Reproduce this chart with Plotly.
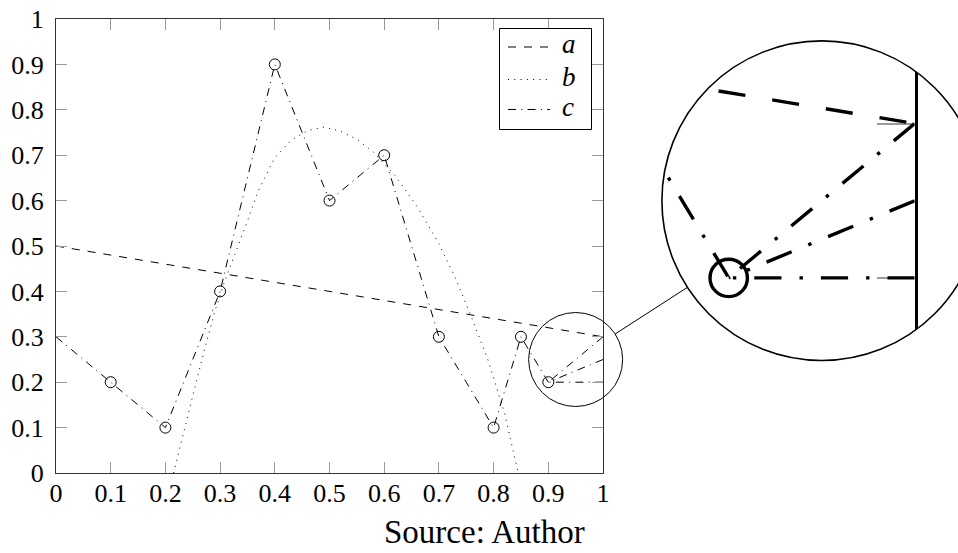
import numpy as np
import plotly.graph_objects as go

W, H = 958, 553

# ---- data -------------------------------------------------------------
tick_vals = [0, 0.1, 0.2, 0.3, 0.4, 0.5, 0.6, 0.7, 0.8, 0.9, 1]
tick_text = ["0", "0.1", "0.2", "0.3", "0.4", "0.5", "0.6", "0.7", "0.8", "0.9", "1"]

a_x = [0.0, 1.0]
a_y = [0.5, 0.3]

b_x = [0.215, 0.23, 0.25, 0.27, 0.29, 0.31, 0.33, 0.35, 0.37, 0.40, 0.43, 0.46,
       0.49, 0.52, 0.55, 0.58, 0.62, 0.66, 0.70, 0.73, 0.76, 0.79, 0.82, 0.845]
b_y = [0.0, 0.07, 0.17, 0.265, 0.355, 0.428, 0.49, 0.555, 0.622, 0.695, 0.733, 0.754,
       0.762, 0.753, 0.735, 0.707, 0.655, 0.587, 0.505, 0.43, 0.342, 0.248, 0.132, 0.0]

c_x = [0.0, 0.1, 0.2, 0.3, 0.4, 0.5, 0.6, 0.7, 0.8, 0.85, 0.9]
c_y = [0.3, 0.2, 0.1, 0.4, 0.9, 0.6, 0.7, 0.3, 0.1, 0.3, 0.2]
c_marked = [False, True, True, True, True, True, True, True, True, True, True]
# three branches joining the last c point to the right edge x = 1
c_fan_x = [1.0, 1.0, 1.0]
c_fan_y = [0.3, 0.25, 0.2]

legend_labels = ["a", "b", "c"]
source_text = "Source: Author"

# ---- geometry (pixels) -------------------------------------------------
PL, PR, PT, PB = 56, 603, 19, 473          # main plot box
SX, SY = PR - PL, PB - PT                  # px per data unit

SPY_X, SPY_Y = 0.95, 0.25                  # centre of the magnified spot
SPY_R = 47                                 # radius of the small circle, px
MAG = 3.4
BIG_R = SPY_R * MAG
BIG_CX, BIG_CY = 821.7, 200.7              # centre of the magnifier


def px(x):
    return x / W


def py(y):
    return 1 - y / H


def dash(pattern, k=1.0):
    return ",".join(f"{round(v * k, 1)}px" for v in pattern)


DASH_A = [8, 8]
DASH_B = [1, 5.3]
DASH_C = [8, 5.3, 1, 5.3]

fig = go.Figure()


def add_series(xa, ya, k):
    lw = 1.0 * k
    fig.add_trace(go.Scatter(x=a_x, y=a_y, mode="lines", xaxis=xa, yaxis=ya,
                             line=dict(color="black", width=lw, dash=dash(DASH_A, k)),
                             hoverinfo="skip", showlegend=False))
    fig.add_trace(go.Scatter(x=b_x, y=b_y, mode="lines", xaxis=xa, yaxis=ya,
                             line=dict(color="black", width=lw, dash=dash(DASH_B, k)),
                             hoverinfo="skip", showlegend=False))
    fig.add_trace(go.Scatter(x=c_x, y=c_y, mode="lines", xaxis=xa, yaxis=ya,
                             line=dict(color="black", width=lw, dash=dash(DASH_C, k)),
                             hoverinfo="skip", showlegend=False))
    # fan segments, each traced from the right edge back to the last c point
    fx, fy = [], []
    for ex, ey in zip(c_fan_x, c_fan_y):
        if fx:
            fx.append(None)
            fy.append(None)
        fx += [ex, c_x[-1]]
        fy += [ey, c_y[-1]]
    fig.add_trace(go.Scatter(x=fx, y=fy, mode="lines", xaxis=xa, yaxis=ya,
                             line=dict(color="black", width=lw, dash=dash(DASH_C, k)),
                             hoverinfo="skip", showlegend=False))
    mx = [x for x, m in zip(c_x, c_marked) if m]
    my = [y for y, m in zip(c_y, c_marked) if m]
    fig.add_trace(go.Scatter(x=mx, y=my, mode="markers", xaxis=xa, yaxis=ya,
                             marker=dict(symbol="circle-open", size=11 * k,
                                         color="black", line=dict(width=lw, color="black")),
                             hoverinfo="skip", showlegend=False))


add_series("x", "y", 1.0)
add_series("x2", "y2", MAG)

tick_font = dict(family="Liberation Serif", size=26, color="black")
axis_common = dict(showgrid=False, zeroline=False, showline=True, linecolor="#333",
                   linewidth=1, mirror="allticks", ticks="inside", ticklen=11,
                   tickwidth=1, tickcolor="#9a9a9a", tickvals=tick_vals,
                   ticktext=tick_text, tickfont=tick_font, automargin=False)

# inset axes: right edge sits where x = 1 falls under magnification
ix0 = BIG_CX - BIG_R
ix1 = BIG_CX + (1.0 - SPY_X) * SX * MAG
iy_top, iy_bot = BIG_CY - BIG_R, BIG_CY + BIG_R
x2_range = [SPY_X - BIG_R / (SX * MAG), 1.0]
y2_range = [SPY_Y - BIG_R / (SY * MAG), SPY_Y + BIG_R / (SY * MAG)]

fig.update_layout(
    template="none",
    width=W, height=H, autosize=False,
    margin=dict(l=0, r=0, t=0, b=0, pad=0, autoexpand=False),
    paper_bgcolor="white", plot_bgcolor="white",
    showlegend=False,
    xaxis=dict(domain=[px(PL), px(PR)], range=[0, 1], anchor="y",
               ticklabelstandoff=-3, **axis_common),
    yaxis=dict(domain=[py(PB), py(PT)], range=[0, 1], anchor="x",
               ticklabelstandoff=6, **axis_common),
    xaxis2=dict(domain=[px(ix0), px(ix1)], range=x2_range, anchor="y2",
                visible=False, automargin=False),
    yaxis2=dict(domain=[py(iy_bot), py(iy_top)], range=y2_range, anchor="x2",
                side="right", showgrid=False, zeroline=False, showline=True,
                linecolor="black", linewidth=1.0 * MAG, ticks="inside",
                ticklen=11 * MAG, tickwidth=1.5, tickcolor="#9a9a9a",
                tickvals=tick_vals, showticklabels=False, layer="below traces",
                automargin=False),
)

shapes = []

# white mask leaving only the round window of the magnifier
pad = 6
rect = (f"M{px(ix0 - pad)},{py(iy_top - pad)} L{px(BIG_CX + BIG_R + pad)},{py(iy_top - pad)} "
        f"L{px(BIG_CX + BIG_R + pad)},{py(iy_bot + pad)} L{px(ix0 - pad)},{py(iy_bot + pad)} Z")
t = np.linspace(0, 2 * np.pi, 181)
circ = " ".join(("M" if i == 0 else "L") + f"{px(BIG_CX + BIG_R * np.cos(v))},{py(BIG_CY + BIG_R * np.sin(v))}"
                for i, v in enumerate(t)) + " Z"
shapes.append(dict(type="path", xref="paper", yref="paper", path=rect + " " + circ,
                   fillcolor="white", fillrule="evenodd", line=dict(width=0), layer="above"))

# magnifier outline
shapes.append(dict(type="circle", xref="paper", yref="paper",
                   x0=px(BIG_CX - BIG_R), x1=px(BIG_CX + BIG_R),
                   y0=py(BIG_CY + BIG_R), y1=py(BIG_CY - BIG_R),
                   line=dict(color="black", width=1.6), layer="above"))

# small circle around the magnified spot
spx = PL + SPY_X * SX
spy = PB - SPY_Y * SY
shapes.append(dict(type="circle", xref="paper", yref="paper",
                   x0=px(spx - SPY_R), x1=px(spx + SPY_R),
                   y0=py(spy + SPY_R), y1=py(spy - SPY_R),
                   line=dict(color="black", width=1), layer="above"))

# connector between the two circles
dx, dy = BIG_CX - spx, BIG_CY - spy
dl = np.hypot(dx, dy)
ux, uy = dx / dl, dy / dl
shapes.append(dict(type="line", xref="paper", yref="paper",
                   x0=px(spx + SPY_R * ux), y0=py(spy + SPY_R * uy),
                   x1=px(BIG_CX - BIG_R * ux), y1=py(BIG_CY - BIG_R * uy),
                   line=dict(color="black", width=1), layer="above"))

# legend box
LB_X0, LB_X1, LB_Y0, LB_Y1 = 499.5, 591.5, 28.5, 129.5
shapes.append(dict(type="rect", xref="paper", yref="paper",
                   x0=px(LB_X0), x1=px(LB_X1), y0=py(LB_Y1), y1=py(LB_Y0),
                   line=dict(color="black", width=1), fillcolor="white", layer="above"))
row_y = [47, 79.5, 109.5]
annotations = []
for lab, ry, pat in zip(legend_labels, row_y, [DASH_A, DASH_B, DASH_C]):
    shapes.append(dict(type="line", xref="paper", yref="paper",
                       x0=px(508), x1=px(550), y0=py(ry), y1=py(ry),
                       line=dict(color="black", width=1, dash=dash(pat)), layer="above"))
    annotations.append(dict(xref="paper", yref="paper", x=px(560), y=py(ry - 2.5),
                            xanchor="left", yanchor="middle", showarrow=False, text=lab,
                            font=dict(family="Liberation Serif", size=27, color="black",
                                      style="italic")))

annotations.append(dict(xref="paper", yref="paper", x=px(485), y=py(552),
                        xanchor="center", yanchor="bottom", showarrow=False,
                        text=source_text,
                        font=dict(family="Liberation Serif", size=33, color="black")))

fig.update_layout(shapes=shapes, annotations=annotations)
fig.write_html("out.html")
